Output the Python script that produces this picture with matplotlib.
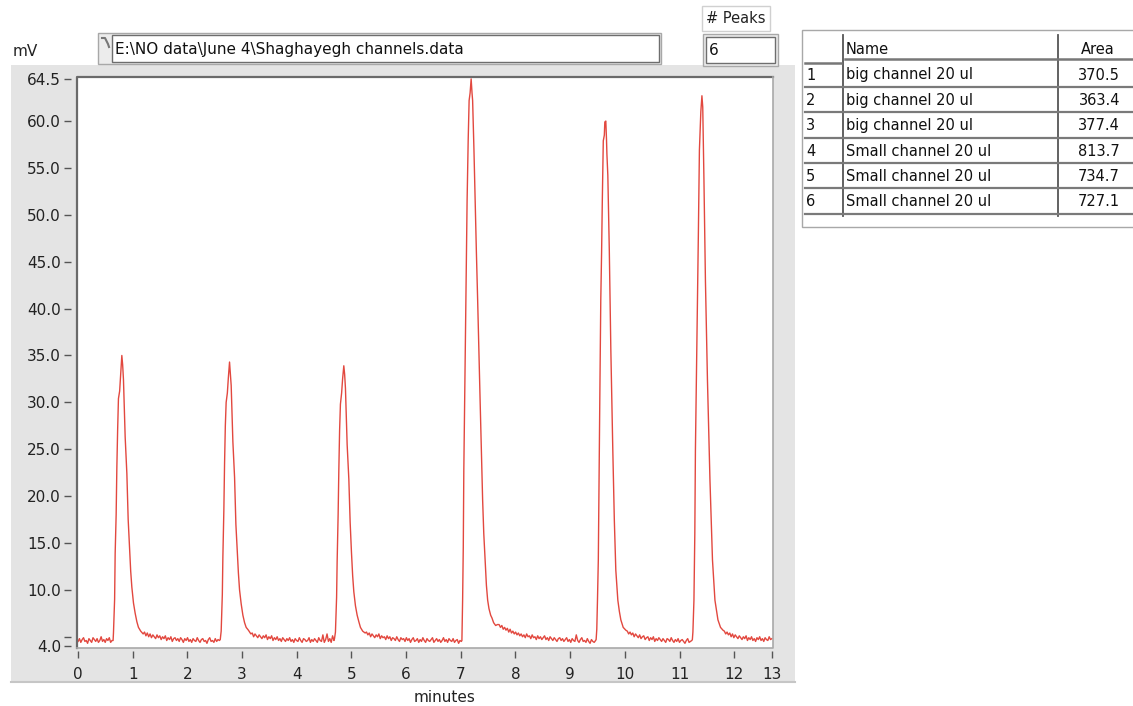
import numpy as np
import matplotlib.pyplot as plt
from matplotlib.patches import Rectangle

W, H = 1133, 706

# ---- trace data (minutes, mV), read off the screen shot ----
# baseline stretches: (start, end) in minutes + mV readings
base0_span = (0.0, 0.62)
base0_mv = [4.5, 4.8, 4.4, 4.7, 4.9, 4.5, 4.6, 4.3, 4.8, 4.6, 4.4, 4.9, 4.7,
            4.5, 4.8, 4.4, 4.6, 5.0, 4.5, 4.7, 4.4, 4.8, 4.6, 4.9, 4.4, 4.6]
base1_span = (1.215, 2.585)
base1_mv = [5.5, 5.1, 5.4, 5.0, 5.3, 4.9, 5.2, 5.0, 4.8, 5.2, 4.9, 5.1, 4.7, 5.0,
            4.8, 5.1, 4.6, 4.9, 4.7, 5.0, 4.5, 4.8, 4.9, 4.6, 4.8, 4.5, 4.9, 4.7,
            4.4, 4.8, 4.6, 4.9, 4.5, 4.7, 4.4, 4.8, 4.6, 4.5, 4.9, 4.6, 4.4, 4.7,
            4.8, 4.5, 4.6, 4.3, 4.7, 4.9, 4.5, 4.6, 4.4, 4.8, 4.5, 4.7, 4.6]
base2_span = (3.185, 4.68)
base2_mv = [5.4, 5.0, 5.3, 5.1, 4.9, 5.2, 5.0, 4.8, 5.1, 4.9, 5.2, 4.7, 5.0, 4.8,
            5.1, 4.6, 4.9, 4.7, 5.0, 4.6, 4.8, 4.5, 4.9, 4.7, 4.5, 4.8, 4.6, 4.9,
            4.5, 4.7, 4.4, 4.8, 4.6, 4.5, 4.9, 4.6, 4.4, 4.8, 4.7, 4.5, 4.6, 4.9,
            4.4, 4.7, 4.5, 4.8, 4.6, 4.4, 4.9, 4.6, 4.5, 5.2, 4.4, 4.7, 5.3, 4.5,
            4.8, 4.4, 5.1, 4.6]
base3_span = (5.275, 7.01)
base3_mv = [5.5, 5.2, 5.4, 5.0, 5.3, 5.1, 4.9, 5.2, 5.0, 5.3, 4.8, 5.1, 4.9, 5.0,
            4.7, 5.1, 4.8, 5.0, 4.6, 4.9, 4.8, 4.6, 5.0, 4.7, 4.5, 4.9, 4.7, 4.8,
            4.5, 4.9, 4.6, 4.8, 4.4, 4.7, 4.9, 4.5, 4.6, 4.8, 4.4, 4.7, 4.5, 4.9,
            4.6, 4.4, 4.8, 4.6, 4.5, 4.7, 4.9, 4.4, 4.6, 4.8, 4.5, 4.7, 4.4, 4.6,
            4.9, 4.5, 4.7, 4.4, 4.8, 4.6, 4.5, 4.8, 4.4, 4.6, 4.7, 4.3, 4.6, 4.5]
base4_span = (7.70, 9.465)
base4_mv = [6.3, 6.0, 6.2, 5.8, 6.0, 5.7, 5.9, 5.5, 5.8, 5.4, 5.6, 5.3, 5.5, 5.2,
            5.4, 5.1, 5.3, 5.0, 5.2, 4.9, 5.3, 5.0, 5.1, 4.8, 5.2, 4.9, 5.0, 4.7,
            5.1, 4.8, 5.0, 4.7, 4.9, 5.1, 4.7, 4.9, 4.6, 5.0, 4.8, 4.6, 4.9, 4.7,
            4.5, 4.8, 4.9, 4.6, 4.8, 4.5, 4.7, 4.9, 4.5, 4.7, 4.4, 4.8, 4.6, 4.5,
            5.2, 4.6, 4.4, 4.7, 4.9, 4.5, 4.6, 4.4, 4.8, 4.5, 4.3, 4.7, 4.5, 4.4, 4.6]
base5_span = (10.045, 11.225)
base5_mv = [5.6, 5.3, 5.5, 5.2, 5.4, 5.0, 5.3, 5.1, 4.9, 5.2, 4.8, 5.0, 5.1, 4.7,
            4.9, 5.0, 4.6, 4.9, 4.7, 5.0, 4.5, 4.8, 4.6, 4.9, 4.7, 4.5, 4.8, 4.6,
            4.4, 4.8, 4.7, 4.5, 4.9, 4.6, 4.4, 4.7, 4.5, 4.8, 4.4, 4.6, 4.7, 4.5,
            4.3, 4.6, 4.8, 4.4, 4.5, 4.6]
base6_span = (11.82, 12.69)
base6_mv = [5.6, 5.3, 5.5, 5.2, 5.4, 5.0, 5.3, 4.9, 5.2, 5.0, 4.8, 5.1, 4.9, 4.7,
            5.0, 4.8, 5.1, 4.6, 4.9, 4.7, 5.0, 4.6, 4.8, 4.5, 4.9, 4.7, 5.0, 4.6,
            4.8, 4.5, 4.9, 4.7, 4.6, 5.0, 4.7, 4.8]

# peaks: time points + mV readings
peak1_t = [0.64, 0.647, 0.668, 0.678, 0.696, 0.709, 0.723, 0.738, 0.76, 0.778,
           0.80, 0.815, 0.83, 0.852, 0.861, 0.892, 0.916, 0.94, 0.962, 0.983,
           1.013, 1.044, 1.075, 1.104, 1.145, 1.19]
peak1_mv = [4.6, 5.4, 9.0, 13.9, 18.0, 23.1, 27.0, 30.4, 31.2, 33.0,
            35.0, 34.0, 32.4, 28.0, 26.3, 22.4, 17.5, 14.6, 12.0, 10.3,
            8.6, 7.5, 6.6, 6.0, 5.6, 5.3]
peak2_t = [2.60, 2.617, 2.638, 2.648, 2.666, 2.679, 2.693, 2.708, 2.73, 2.748,
           2.77, 2.785, 2.80, 2.822, 2.831, 2.862, 2.886, 2.91, 2.932, 2.953,
           2.983, 3.014, 3.045, 3.074, 3.115, 3.16]
peak2_mv = [4.7, 5.6, 9.5, 13.5, 18.5, 23.5, 27.5, 30.0, 31.0, 32.6,
            34.3, 33.0, 31.8, 27.5, 25.8, 22.0, 17.0, 14.2, 11.8, 10.0,
            8.5, 7.3, 6.5, 6.0, 5.7, 5.3]
peak3_t = [4.69, 4.707, 4.728, 4.738, 4.756, 4.769, 4.783, 4.798, 4.82, 4.838,
           4.86, 4.875, 4.89, 4.912, 4.921, 4.952, 4.976, 5.0, 5.022, 5.043,
           5.073, 5.104, 5.135, 5.164, 5.205, 5.25]
peak3_mv = [4.8, 5.5, 9.2, 13.0, 18.0, 22.8, 27.0, 29.8, 31.0, 32.5,
            33.9, 33.0, 31.5, 27.5, 25.5, 21.8, 17.2, 14.0, 11.5, 9.8,
            8.3, 7.3, 6.6, 6.0, 5.6, 5.4]
peak4_t = [7.02, 7.033, 7.045, 7.055, 7.07, 7.09, 7.115, 7.135, 7.152, 7.17,
           7.189, 7.205, 7.216, 7.24, 7.262, 7.285, 7.308, 7.33, 7.353, 7.375,
           7.399, 7.42, 7.445, 7.468, 7.491, 7.515, 7.546, 7.57, 7.60, 7.637, 7.67]
peak4_mv = [4.6, 8.9, 14.5, 22.8, 30.2, 40.0, 51.5, 58.0, 62.2, 63.0,
            64.5, 63.0, 62.2, 57.0, 51.5, 46.0, 40.9, 35.5, 30.2, 25.0,
            19.6, 16.0, 13.2, 10.5, 8.9, 8.0, 7.3, 7.0, 6.5, 6.2, 6.3]
peak5_t = [9.475, 9.487, 9.50, 9.515, 9.53, 9.542, 9.56, 9.575, 9.588, 9.606,
           9.625, 9.634, 9.652, 9.665, 9.672, 9.689, 9.716, 9.744, 9.762, 9.78,
           9.808, 9.835, 9.872, 9.90, 9.927, 9.97, 10.018]
peak5_mv = [4.7, 5.8, 9.0, 13.2, 22.0, 30.2, 40.9, 46.0, 51.5, 57.9,
            58.5, 59.9, 60.0, 58.0, 56.5, 54.2, 46.2, 35.6, 30.0, 24.9,
            17.4, 12.1, 8.9, 7.7, 6.8, 6.0, 5.7]
peak6_t = [11.235, 11.245, 11.264, 11.28, 11.291, 11.31, 11.328, 11.345, 11.364,
           11.39, 11.41, 11.425, 11.447, 11.474, 11.511, 11.557, 11.603, 11.648,
           11.703, 11.75, 11.795]
peak6_mv = [4.7, 5.5, 8.9, 16.0, 24.9, 33.0, 40.9, 48.0, 56.9,
            61.0, 62.7, 61.5, 53.7, 43.0, 32.4, 21.7, 13.2, 8.9,
            6.8, 6.0, 5.7]

# axis ticks
x_ticks = [0, 1, 2, 3, 4, 5, 6, 7, 8, 9, 10, 11, 12, 12.69]
x_labels = ["0", "1", "2", "3", "4", "5", "6", "7", "8", "9", "10", "11", "12", "13"]
y_ticks = [4.0, 5.0, 10.0, 15.0, 20.0, 25.0, 30.0, 35.0, 40.0, 45.0, 50.0, 55.0, 60.0, 64.5]
y_labels = ["4.0", "", "10.0", "15.0", "20.0", "25.0", "30.0", "35.0", "40.0",
            "45.0", "50.0", "55.0", "60.0", "64.5"]

# peak table
peak_no = ["1", "2", "3", "4", "5", "6"]
peak_names = ["big channel 20 ul", "big channel 20 ul", "big channel 20 ul",
              "Small channel 20 ul", "Small channel 20 ul", "Small channel 20 ul"]
peak_area = ["370.5", "363.4", "377.4", "813.7", "734.7", "727.1"]
file_path = "E:\\NO data\\June 4\\Shaghayegh channels.data"
n_peaks = "6"

# assemble trace
pieces = [
    (np.linspace(*base0_span, len(base0_mv)), base0_mv), (peak1_t, peak1_mv),
    (np.linspace(*base1_span, len(base1_mv)), base1_mv), (peak2_t, peak2_mv),
    (np.linspace(*base2_span, len(base2_mv)), base2_mv), (peak3_t, peak3_mv),
    (np.linspace(*base3_span, len(base3_mv)), base3_mv), (peak4_t, peak4_mv),
    (np.linspace(*base4_span, len(base4_mv)), base4_mv), (peak5_t, peak5_mv),
    (np.linspace(*base5_span, len(base5_mv)), base5_mv), (peak6_t, peak6_mv),
    (np.linspace(*base6_span, len(base6_mv)), base6_mv),
]
t_all = np.concatenate([np.asarray(t, float) for t, _ in pieces])
mv_all = np.concatenate([np.asarray(v, float) for _, v in pieces])

plt.rcParams['font.family'] = ['DejaVu Sans']
fig = plt.figure(figsize=(W / 100, H / 100), dpi=100)

# background layer in pixel coords (panel, path box, table)
bg = fig.add_axes([0, 0, 1, 1], zorder=0)
bg.set_xlim(0, W)
bg.set_ylim(H, 0)
bg.axis('off')

bg.add_patch(Rectangle((11, 65), 784, 617, fc='#e4e4e4', ec='none'))
bg.plot([11, 795], [682, 682], color='#c6c6c6', lw=1.5)
bg.text(13, 51, "mV", fontsize=11, va='center', color='#222222')

# file path control
bg.add_patch(Rectangle((98, 33), 563, 31, fc='#ececec', ec='#a8a8a8', lw=1))
bg.add_patch(Rectangle((112, 35), 547, 27, fc='white', ec='#6e6e6e', lw=1))
bg.plot([102, 105, 108, 109], [38, 38, 44, 47], color='#777777', lw=1.5)
bg.text(115, 49.5, file_path, fontsize=11, va='center', color='#111111')

# peak count control
bg.add_patch(Rectangle((702, 6), 68, 25, fc='white', ec='#d0d0d0', lw=1))
bg.text(706, 18.5, "# Peaks", fontsize=10.5, va='center', color='#222222')
bg.add_patch(Rectangle((703, 34), 75, 32, fc='#ececec', ec='#a8a8a8', lw=1))
bg.add_patch(Rectangle((706, 37), 69, 26, fc='white', ec='#6e6e6e', lw=1))
bg.text(709, 50.5, n_peaks, fontsize=11, va='center', color='#111111')

# peak table
bg.add_patch(Rectangle((801.5, 30), 340, 197, fc='white', ec='#a8a8a8', lw=1))
bg.plot([843, 843], [35, 216], color='#555555', lw=1.3)
bg.plot([1058, 1058], [35, 216], color='#555555', lw=1.3)
bg.plot([845, 1133], [58.5, 58.5], color='#777777', lw=1.8)
bg.plot([805, 841], [63, 63], color='#777777', lw=1.8)
row_y = 75.0
for k in range(len(peak_no)):
    y = row_y + 25.35 * k
    bg.plot([805, 1133], [y + 12, y + 12], color='#7a7a7a', lw=1.6)
    bg.text(806, y, peak_no[k], fontsize=10.5, va='center', color='#111111')
    bg.text(846, y, peak_names[k], fontsize=10.5, va='center', color='#111111')
    bg.text(1120, y, peak_area[k], fontsize=10.5, va='center', ha='right', color='#111111')
bg.text(846, 50, "Name", fontsize=10.5, va='center', color='#111111')
bg.text(1081, 50, "Area", fontsize=10.5, va='center', color='#111111')

bg.text(445, 698, "minutes", fontsize=11, va='center', ha='center', color='#222222')

# chart
ax = fig.add_axes([77 / W, 1 - 648 / H, (773 - 77) / W, (648 - 77) / H], zorder=1)
ax.plot(t_all, mv_all, color='#e2483f', lw=1.0)
ax.set_xlim(-0.02, 12.71)
ax.set_ylim(3.8, 64.7)

for s in ax.spines.values():
    s.set_color('none')
ax.spines['left'].set_position(('outward', 4))
ax.spines['bottom'].set_position(('outward', 2))
# sunken frame
ax.plot([0, 0, 1], [0, 1, 1], transform=ax.transAxes, color='#6a6a6a', lw=1.6, clip_on=False)
ax.plot([0, 1, 1], [0, 0, 1], transform=ax.transAxes, color='#a9a9a9', lw=1.2, clip_on=False)

ax.set_xticks(x_ticks)
ax.set_xticklabels(x_labels)
ax.set_yticks(y_ticks)
ax.set_yticklabels(y_labels)
ax.tick_params(axis='both', direction='out', length=5, width=1, color='#555555',
               labelsize=11, labelcolor='#222222')
ax.tick_params(axis='x', pad=7)
ax.tick_params(axis='y', pad=2.5)

fig.savefig("out.png", dpi=100)
